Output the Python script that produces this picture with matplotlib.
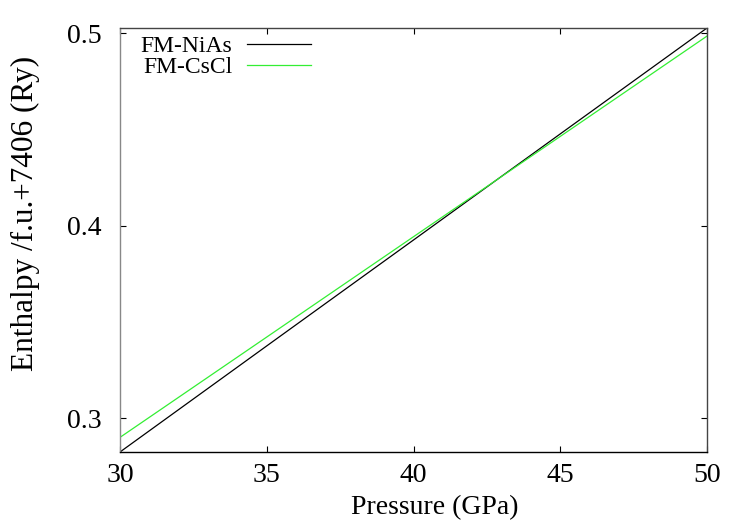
import matplotlib.pyplot as plt

# pressure (GPa) and enthalpy per f.u. + 7406 (Ry)
pressure = [30, 35, 40, 45, 50]
h_nias = [0.2824, 0.3375, 0.3925, 0.4476, 0.5026]
h_cscl = [0.2900, 0.3421, 0.3942, 0.4463, 0.4984]

plt.rcParams['font.family'] = ['Liberation Serif', 'DejaVu Serif']
plt.rcParams['font.size'] = 20

fig = plt.figure(figsize=(7.47, 5.23), dpi=100)
ax = fig.add_axes([120 / 747, 1 - 452 / 523, 587 / 747, 424 / 523])

ax.plot(pressure, h_nias, color='black', lw=0.9, label='FM-NiAs')
ax.plot(pressure, h_cscl, color='#33ee33', lw=0.9, label='FM-CsCl')

ax.set_xlim(30, 50)
ax.set_ylim(0.2824, 0.5026)
ax.set_xticks([30, 35, 40, 45, 50])
ax.set_yticks([0.3, 0.4, 0.5])
ax.set_yticklabels(['0.3', '0.4', '0.5'])
ax.tick_params(direction='in', length=4, width=0.8, top=True, right=True,
               colors='black')
ax.tick_params(axis='y', pad=13)
ax.tick_params(axis='x', pad=8)

ax.spines['left'].set_color('#888888')
ax.spines['bottom'].set_color('black')
ax.spines['top'].set_color('#444444')
ax.spines['right'].set_color('#444444')
for s in ax.spines.values():
    s.set_linewidth(1.0)

ax.set_xlabel('Pressure (GPa)', fontsize=20)
ax.xaxis.set_label_coords(0.537, -0.102)
ax.set_ylabel('Enthalpy /f.u.+7406 (Ry)', fontsize=22.5)
ax.yaxis.set_label_coords(-0.137, 0.562)

ax.legend(loc='upper left', frameon=False, markerfirst=False,
          handlelength=2.75, handletextpad=0.6, labelspacing=-0.02,
          borderaxespad=0.1, fontsize=17, bbox_to_anchor=(0.015, 1.01))

fig.savefig('out.png', dpi=100)
